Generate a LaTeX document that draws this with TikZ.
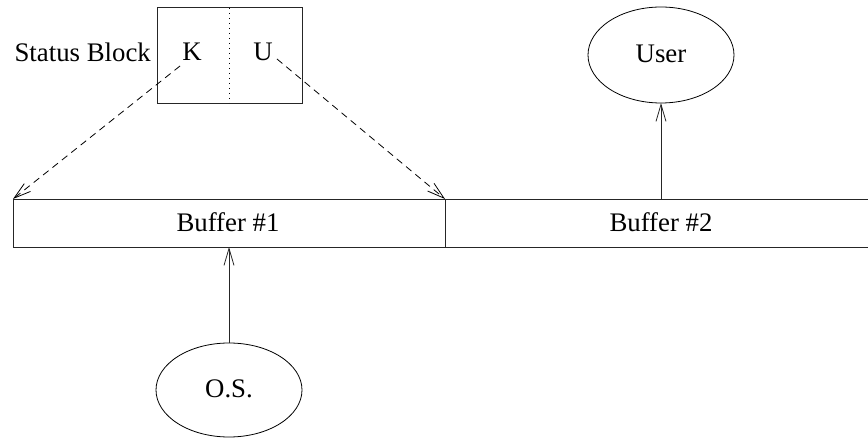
\documentclass[tikz,border=0pt]{standalone}
\usepackage{fontspec}
\setmainfont{Liberation Serif}
\usetikzlibrary{arrows.meta}
\begin{document}
\begin{tikzpicture}[x=1pt,y=-1pt,
  every node/.style={font=\fontsize{26.8}{31}\selectfont, inner sep=0pt},
  ln/.style={line width=0.8pt, draw=black!85},
  tip/.style={-{Straight Barb[length=17pt,width=10pt,line width=0.8pt]}},
  dsh/.style={dash pattern=on 7pt off 5pt}]
\useasboundingbox (0,0) rectangle (868,438);
\clip (0,0) rectangle (868,438);
% status block
\draw[ln] (157,7) rectangle (302,103);
\draw[line width=1pt, dash pattern=on 1pt off 4pt] (229,8) -- (229,103);
\node[anchor=east] (sb) at (151,52) {Status Block};
\node (k) at (192,52) {K};
\node (u) at (263,52) {U};
\coordinate (ks) at (180,66);
\coordinate (us) at (277,59);
% buffers
\draw[ln] (13,199) rectangle (445,247);
\draw[ln] (875,199) -- (445,199) -- (445,247) -- (875,247);
\node (b1) at (228,222) {Buffer \#1};
\node (b2) at (661,222) {Buffer \#2};
\coordinate (b1tl) at (13,199);
\coordinate (b1tr) at (445,199);
\coordinate (b1b) at (229,247);
\coordinate (b2t) at (661,199);
% ellipses
\draw[line width=0.8pt] (661,55) ellipse (73pt and 48pt);
\node (user) at (661,54) {User};
\coordinate (userb) at (661,103);
\draw[line width=0.8pt] (229,390) ellipse (73pt and 47pt);
\node (os) at (229,389) {O.S.};
\coordinate (ost) at (229,343);
% connectors
\draw[ln, tip] (ost) -- (b1b);
\draw[ln, tip] (b2t) -- (userb);
\draw[line width=0.8pt, dsh, tip] (ks) -- (b1tl);
\draw[line width=0.8pt, dsh, tip] (us) -- (b1tr);
\end{tikzpicture}
\end{document}
